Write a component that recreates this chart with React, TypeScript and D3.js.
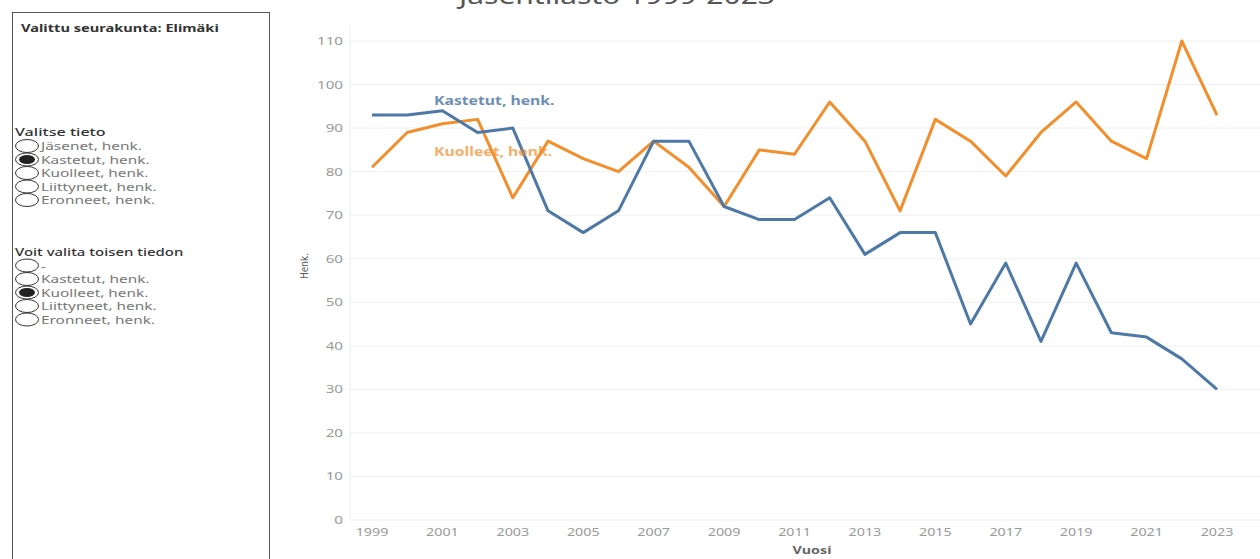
import React from "react";
import * as d3 from "d3";

const years: number[] = [1999, 2000, 2001, 2002, 2003, 2004, 2005, 2006, 2007, 2008, 2009, 2010, 2011, 2012, 2013, 2014, 2015, 2016, 2017, 2018, 2019, 2020, 2021, 2022, 2023];
const kastetut: number[] = [93, 93, 94, 89, 90, 71, 66, 71, 87, 87, 72, 69, 69, 74, 61, 66, 66, 45, 59, 41, 59, 43, 42, 37, 30];
const kuolleet: number[] = [81, 89, 91, 92, 74, 87, 83, 80, 87, 81, 72, 85, 84, 96, 87, 71, 92, 87, 79, 89, 96, 87, 83, 110, 93];
const yTicks: number[] = [0, 10, 20, 30, 40, 50, 60, 70, 80, 90, 100, 110];
const xTickYears: number[] = [1999, 2001, 2003, 2005, 2007, 2009, 2011, 2013, 2015, 2017, 2019, 2021, 2023];
const options1: string[] = ["Jäsenet, henk.", "Kastetut, henk.", "Kuolleet, henk.", "Liittyneet, henk.", "Eronneet, henk."];
const options2: string[] = ["-", "Kastetut, henk.", "Kuolleet, henk.", "Liittyneet, henk.", "Eronneet, henk."];
const selected1 = 1;
const selected2 = 2;

const FONT = "'Noto Sans', 'Open Sans', sans-serif";
const BLUE = "#4e79a7";
const ORANGE = "#f28e2b";
const SX = 1.38;

type STProps = {
  x: number;
  y: number;
  sx?: number;
  size: number;
  fill: string;
  weight?: string | number;
  anchor?: "start" | "middle" | "end";
  opacity?: number;
  children: React.ReactNode;
};

function SText({ x, y, sx = SX, size, fill, weight = "normal", anchor = "start", opacity = 1, children }: STProps) {
  return (
    <text
      transform={`translate(${x},${y}) scale(${sx},1)`}
      fontSize={size}
      fill={fill}
      fontWeight={weight}
      textAnchor={anchor}
      fontFamily={FONT}
      opacity={opacity}
    >
      {children}
    </text>
  );
}

export default function App() {
  const x = d3.scaleLinear().domain([1999, 2023]).range([372, 1217]);
  const y = d3.scaleLinear().domain([0, 110]).range([520, 41]);
  const line = d3
    .line<number>()
    .x((_, i) => x(years[i]))
    .y((d) => y(d));

  const radio = (items: string[], sel: number, y0: number) =>
    items.map((t, i) => {
      const cy = y0 + i * 13.5;
      return (
        <g key={t + i}>
          <ellipse cx={27} cy={cy} rx={11.5} ry={6.5} fill="#fff" stroke="#333" strokeWidth={1} />
          {i === sel && <ellipse cx={27} cy={cy} rx={8} ry={4.5} fill="#222" />}
          <SText x={41} y={cy + 4} size={11} fill="#777" sx={1.4}>
            {t}
          </SText>
        </g>
      );
    });

  return (
    <svg
      width={1260}
      height={559}
      style={{ position: "absolute", left: 0, top: 0, background: "#fff" }}
    >
      {/* left panel */}
      <rect x={12.5} y={12.5} width={257} height={560} fill="#fff" stroke="#555" strokeWidth={1} />
      <SText x={21} y={32} size={11} weight="bold" fill="#333" sx={1.33}>
        Valittu seurakunta: Elimäki
      </SText>
      <SText x={15} y={136} size={11.5} weight={500} fill="#333" sx={1.4}>
        Valitse tieto
      </SText>
      {radio(options1, selected1, 146)}
      <SText x={15} y={256} size={11.5} weight={500} fill="#333" sx={1.3}>
        Voit valita toisen tiedon
      </SText>
      {radio(options2, selected2, 265.5)}

      {/* title (clipped at top, as in the source) */}
      <SText x={617} y={4} size={24} fill="#555" anchor="middle" sx={1.25}>
        Jäsentilasto 1999-2023
      </SText>

      {/* gridlines */}
      {yTicks.map((t) => (
        <line key={t} x1={350} x2={1260} y1={y(t)} y2={y(t)} stroke="#efefef" strokeWidth={1} />
      ))}
      <line x1={350} x2={350} y1={25} y2={520} stroke="#f0f0f0" strokeWidth={1} />
      {yTicks.map((t) => (
        <SText key={"l" + t} x={343} y={y(t) + 4} anchor="end" size={11} fill="#999">
          {t}
        </SText>
      ))}
      {xTickYears.map((yr) => (
        <SText key={yr} x={x(yr)} y={536} anchor="middle" size={11} fill="#999" sx={1.3}>
          {yr}
        </SText>
      ))}
      <SText x={812} y={554} anchor="middle" size={11} weight="bold" fill="#666" sx={1.3}>
        Vuosi
      </SText>
      <text
        transform="translate(308,266) rotate(-90)"
        textAnchor="middle"
        fontSize={10}
        fill="#555"
        fontFamily="'Liberation Sans Narrow', 'DejaVu Sans Condensed', sans-serif"
      >
        Henk.
      </text>

      {/* lines */}
      <path d={line(kuolleet) || ""} fill="none" stroke={ORANGE} strokeWidth={3} strokeLinejoin="round" />
      <path d={line(kastetut) || ""} fill="none" stroke={BLUE} strokeWidth={3} strokeLinejoin="round" />

      <SText x={434} y={105} size={11.5} weight="bold" fill="#6f8fb3" sx={1.37}>
        Kastetut, henk.
      </SText>
      <SText x={434} y={156} size={11.5} weight="bold" fill={ORANGE} opacity={0.7} sx={1.37}>
        Kuolleet, henk.
      </SText>
    </svg>
  );
}
